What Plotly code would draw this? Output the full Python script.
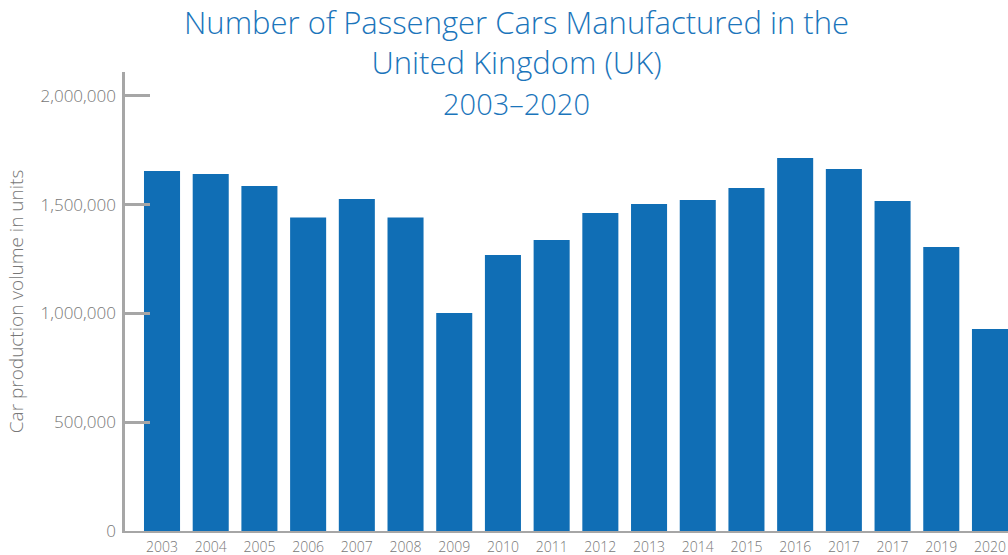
import plotly.graph_objects as go

years = ["2003", "2004", "2005", "2006", "2007", "2008", "2009", "2010", "2011",
         "2012", "2013", "2014", "2015", "2016", "2017", "2017", "2019", "2020"]
production = [1655000, 1641000, 1586000, 1441000, 1526000, 1441000, 1002000, 1269000, 1338000,
              1462000, 1503000, 1522000, 1577000, 1715000, 1664000, 1517000, 1306000, 929000]
y_ticks = [0, 500000, 1000000, 1500000, 2000000]
y_tick_labels = ["0", "500,000", "1,000,000", "1,500,000", "2,000,000"]

positions = list(range(len(years)))

BLUE = "#106EB5"
GRAY = "#777777"
AXIS = "#A6A6A6"
FONT = "Lato, 'Open Sans', sans-serif"
TFONT = "'Open Sans', Lato, sans-serif"

fig = go.Figure(go.Bar(
    x=positions, y=production, marker=dict(color=BLUE, line=dict(width=0)),
    hoverinfo="x+y"
))

fig.update_layout(
    width=1008, height=555,
    margin=dict(l=125, r=0, t=72, b=24),
    paper_bgcolor="white", plot_bgcolor="white",
    bargap=0.26, showlegend=False,
    font=dict(family=FONT, color=GRAY),
)

fig.update_xaxes(
    range=[-0.76, 17.37],
    tickvals=positions, ticktext=years,
    tickfont=dict(size=14, color=GRAY, family=TFONT, weight=300),
    showgrid=False, zeroline=False,
    showline=True, linecolor=AXIS, linewidth=2,
    ticks="", ticklabelstandoff=2,
)

fig.update_yaxes(
    range=[0, 2110000],
    tickvals=y_ticks, ticktext=y_tick_labels,
    tickfont=dict(size=17, color=GRAY, family=TFONT, weight=300),
    showgrid=False, zeroline=False,
    showline=True, linecolor=AXIS, linewidth=2.5,
    ticks="inside", ticklen=25, tickwidth=2.5, tickcolor=AXIS,
    ticklabelstandoff=3,
    title=dict(text="Car production volume in units",
               font=dict(size=19, color=GRAY, family=TFONT, weight=300), standoff=12),
)

title_text = ("Number of Passenger Cars Manufactured in the<br>"
              "United Kingdom (UK)<br>"
              "<span style='font-size:29px'>2003–2020</span>")
fig.add_annotation(
    text=title_text, xref="paper", yref="paper",
    x=(516 - 125) / (1008 - 125),
    y=1 + (72 - 62) / (555 - 72 - 24),
    xanchor="center", yanchor="middle", align="center", showarrow=False,
    font=dict(size=31, color="#1B75BB", family=TFONT, weight=300),
)

fig.write_html("out.html")
